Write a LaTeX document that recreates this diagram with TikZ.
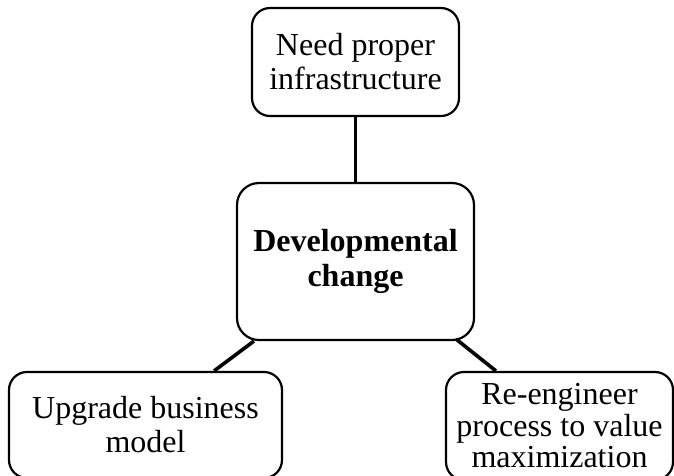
\documentclass[tikz,border=0pt]{standalone}
\usepackage{fontspec}
\setmainfont{Liberation Serif}
\usetikzlibrary{positioning}
\tikzset{
	box/.style={draw, line width=2.2pt, rounded corners=18pt, align=center, inner sep=0pt, font=\fontsize{32}{34}\selectfont},
	link/.style={line width=3.6pt}
}

\begin{document}
\begin{tikzpicture}[x=1pt, y=1pt]
		%%%%% START %%%%%
		
		\useasboundingbox (0, 0) rectangle (674, -475);
		
		\node[box, minimum width=207pt, minimum height=108pt] (need) at (355.5, -62) {Need proper\\infrastructure};
		
		\node[box, minimum width=237pt, minimum height=157pt, rounded corners=22pt, font=\fontsize{32}{35}\selectfont\bfseries] (dev) at (355.5, -261.5) {Developmental\\change};
		
		\node[box, minimum width=273pt, minimum height=106pt] (upg) at (145.5, -425) {Upgrade business\\model};
		\node[box, minimum width=227pt, minimum height=108pt, font=\fontsize{32}{31.5}\selectfont] (reng) at (559.5, -426) {Re-engineer\\process to value\\maximization};
		
		\draw[link] (need.south) -- (dev.north);
		\draw[link] ([xshift=18pt]dev.south west) -- ([xshift=-69pt]upg.north east);
		\draw[link] ([xshift=-19pt, yshift=2pt]dev.south east) -- ([xshift=51pt]reng.north west);
		
		%%%%% END %%%%%
	\end{tikzpicture}
\end{document}
